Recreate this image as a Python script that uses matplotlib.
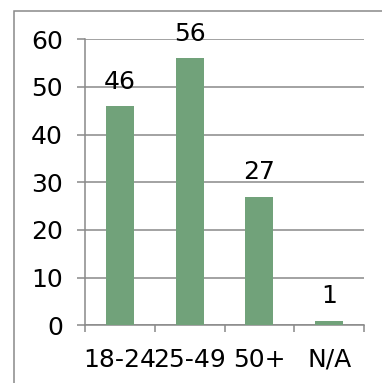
import matplotlib.pyplot as plt
from matplotlib.patches import Rectangle

# age groups and respondent counts
groups = ['18-24', '25-49', '50+', 'N/A']
counts = [46, 56, 27, 1]
yticks = [0, 10, 20, 30, 40, 50, 60]

bar_color = '#71A27A'
grey = '#898989'
fs = 18

W, H = 382, 383
fig = plt.figure(figsize=(W / 100, H / 100), dpi=100)

# outer chart border (runs off the right and bottom edges)
fig.patches.append(Rectangle((14 / W, -0.1), 1.2, (H - 11) / H + 0.1,
                             transform=fig.transFigure, fill=False,
                             edgecolor=grey, linewidth=1.1))

ax = fig.add_axes([85 / W, (H - 325.3) / H, (364 - 85) / W, (325.3 - 39.3) / H])

x = range(len(groups))
ax.bar(x, counts, width=0.4, color=bar_color, zorder=3)
for i, v in enumerate(counts):
    ax.annotate(str(v), (i, v), xytext=(0, 9), textcoords='offset points',
                ha='center', va='bottom', fontsize=fs, color='black')

ax.set_xlim(-0.5, len(groups) - 0.5)
ax.set_ylim(0, 60)
ax.set_yticks(yticks)
ax.set_yticklabels([str(t) for t in yticks], fontsize=fs)
ax.set_xticks(list(x))
ax.set_xticklabels(groups, fontsize=fs)
ax.set_xticks([i - 0.5 for i in range(len(groups) + 1)], minor=True)

ax.grid(axis='y', color=grey, linewidth=1.1, zorder=0)
ax.tick_params(axis='y', length=5.8, width=1.1, color=grey, pad=10)
ax.tick_params(axis='x', which='major', length=0, pad=16)
ax.tick_params(axis='x', which='minor', length=5.2, width=1.1, color=grey)

for side in ['top', 'right']:
    ax.spines[side].set_visible(False)
for side in ['left', 'bottom']:
    ax.spines[side].set_color(grey)
    ax.spines[side].set_linewidth(1.1)

fig.savefig('out.png', dpi=100)
